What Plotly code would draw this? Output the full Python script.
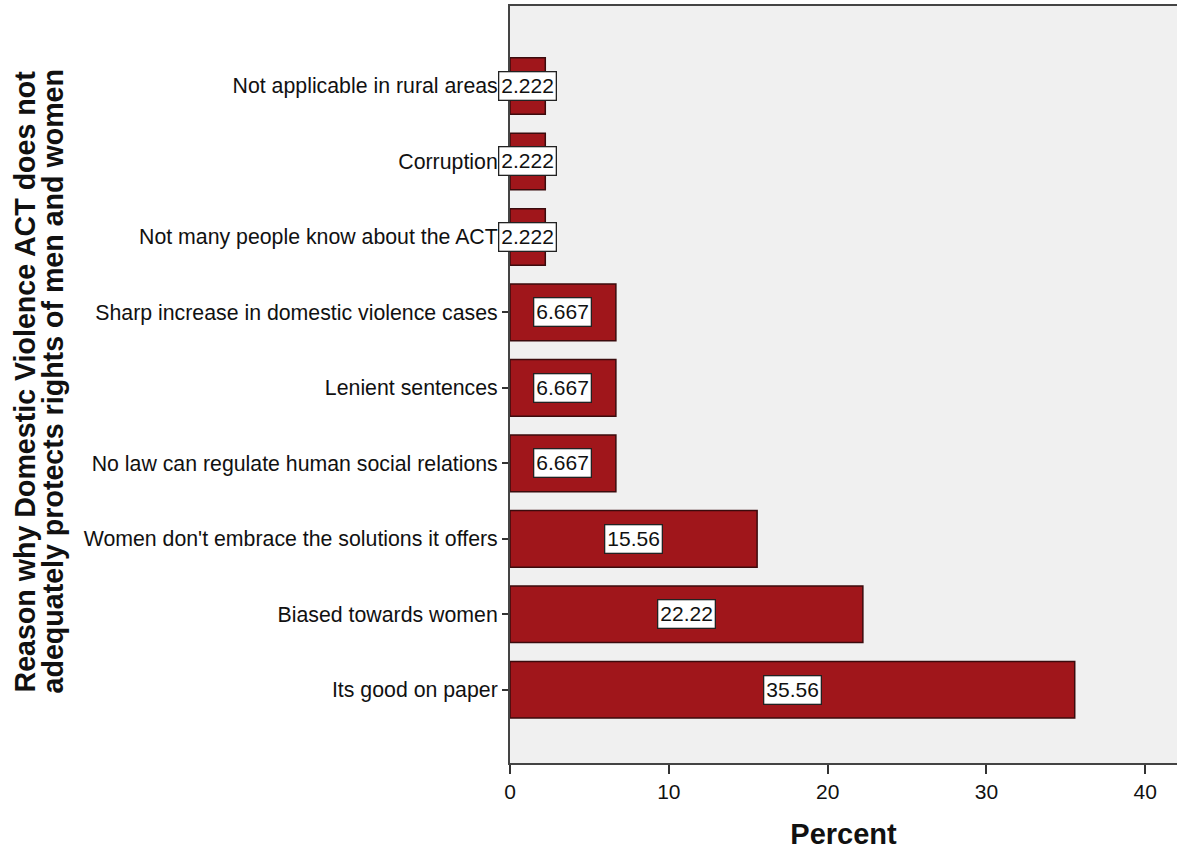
import plotly.graph_objects as go

categories = [
    "Its good on paper",
    "Biased towards women",
    "Women don't embrace the solutions it offers",
    "No law can regulate human social relations",
    "Lenient sentences",
    "Sharp increase in domestic violence cases",
    "Not many people know about the ACT",
    "Corruption",
    "Not applicable in rural areas",
]
percents = [35.56, 22.22, 15.56, 6.667, 6.667, 6.667, 2.222, 2.222, 2.222]
labels = ["35.56", "22.22", "15.56", "6.667", "6.667", "6.667", "2.222", "2.222", "2.222"]
x_ticks = [0, 10, 20, 30, 40]
y_title_lines = ["Reason why Domestic Violence ACT does not",
                 "adequately protects rights of men and women"]

FONT = "Liberation Sans, Arial, sans-serif"
ypos = list(range(len(categories)))

W, H = 1177, 850
ML, MR, MT, MB = 510, 0, 6, 87
PW = W - ML - MR

fig = go.Figure()
fig.add_trace(go.Bar(
    x=percents, y=ypos, orientation="h", width=0.75,
    marker=dict(color="#a0161b", line=dict(color="#3b0b0d", width=1.5)),
    hoverinfo="skip", showlegend=False,
))

for v, yv, lab in zip(percents, ypos, labels):
    fig.add_annotation(
        x=v / 2, y=yv, text=lab, showarrow=False,
        font=dict(family=FONT, size=21, color="#111111"),
        bgcolor="white", bordercolor="#222222", borderwidth=1.3, borderpad=2,
    )

# two-line rotated y-axis title with tight line spacing
for px_center, line in zip([25, 53], y_title_lines):
    fig.add_annotation(
        xref="paper", yref="paper", x=(px_center - ML) / PW, y=0.504,
        xanchor="center", yanchor="middle", textangle=-90, showarrow=False,
        text="<b>" + line + "</b>",
        font=dict(family=FONT, size=28.6, color="#111111"),
    )

fig.update_layout(
    width=W, height=H,
    margin=dict(l=ML, r=MR, t=MT, b=MB),
    paper_bgcolor="white", plot_bgcolor="#f0f0f0",
    font=dict(family=FONT, color="#111111"),
    bargap=0.25,
)
fig.update_xaxes(
    range=[0, 42], tickvals=x_ticks, ticks="outside", ticklen=9, tickwidth=2,
    tickcolor="#333333", showgrid=False, zeroline=False,
    showline=True, linecolor="#444444", linewidth=2, mirror=True,
    tickfont=dict(family=FONT, size=21, color="#111111"),
    title=dict(text="<b>Percent</b>", font=dict(family=FONT, size=29, color="#111111"), standoff=24),
)
fig.update_yaxes(
    range=[-0.97, 9.06], tickvals=ypos, ticktext=categories,
    ticks="outside", ticklen=6, tickwidth=1.5, tickcolor="#333333",
    showgrid=False, zeroline=False,
    showline=True, linecolor="#444444", linewidth=2,
    tickfont=dict(family=FONT, size=21.3, color="#111111"),
)

fig.write_html("out.html")
